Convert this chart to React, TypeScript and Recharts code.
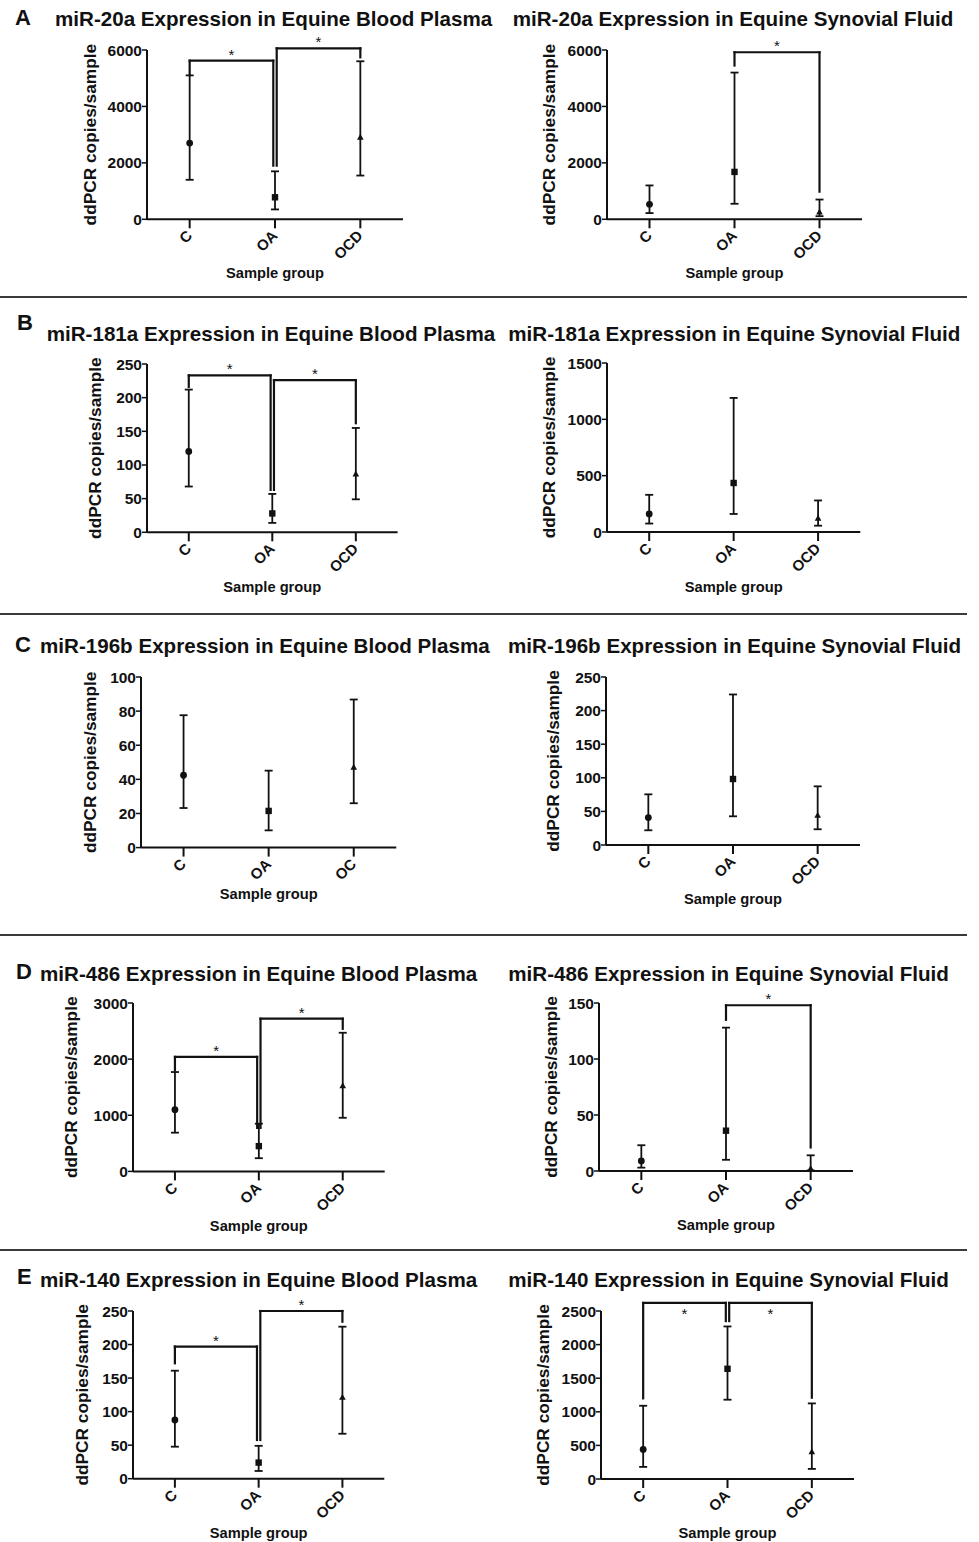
import React from "react";
import { ScatterChart, Scatter, XAxis, YAxis, ErrorBar, ReferenceLine, ReferenceDot } from "recharts";

const FONT = '"Liberation Sans", Arial, Helvetica, sans-serif';
const INK = "#111";

// groups on the x axis
const groups = ["C", "OA", "OCD"];
const groupsMiR196bPlasma = ["C", "OA", "OC"];

// A: miR-20a
const miR20aPlasmaMedian = [2700, 780, 2900];
const miR20aPlasmaLow = [1400, 350, 1550];
const miR20aPlasmaHigh = [5100, 1700, 5600];
const miR20aPlasmaTicks = [0, 2000, 4000, 6000];
const miR20aPlasmaSig = [
  { from: "C", to: "OA", top: 5620, fromEnd: 5150, toEnd: 1900 },
  { from: "OA", to: "OCD", top: 6060, fromEnd: 1900, toEnd: 5740 },
];
const miR20aSynovialMedian = [530, 1680, 250];
const miR20aSynovialLow = [220, 550, 110];
const miR20aSynovialHigh = [1200, 5200, 700];
const miR20aSynovialTicks = [0, 2000, 4000, 6000];
const miR20aSynovialSig = [{ from: "OA", to: "OCD", top: 5920, fromEnd: 5450, toEnd: 980 }];

// B: miR-181a
const miR181aPlasmaMedian = [120, 28, 86];
const miR181aPlasmaLow = [68, 14, 49];
const miR181aPlasmaHigh = [212, 57, 155];
const miR181aPlasmaTicks = [0, 50, 100, 150, 200, 250];
const miR181aPlasmaSig = [
  { from: "C", to: "OA", top: 233, fromEnd: 216, toEnd: 63 },
  { from: "OA", to: "OCD", top: 226, fromEnd: 63, toEnd: 162 },
];
const miR181aSynovialMedian = [160, 435, 120];
const miR181aSynovialLow = [75, 160, 56];
const miR181aSynovialHigh = [330, 1190, 280];
const miR181aSynovialTicks = [0, 500, 1000, 1500];

// C: miR-196b
const miR196bPlasmaMedian = [42.4, 21.5, 46.9];
const miR196bPlasmaLow = [23.2, 10.1, 26];
const miR196bPlasmaHigh = [77.6, 45.1, 86.8];
const miR196bPlasmaTicks = [0, 20, 40, 60, 80, 100];
const miR196bSynovialMedian = [40.8, 98.2, 43.7];
const miR196bSynovialLow = [21.9, 42.7, 23.4];
const miR196bSynovialHigh = [75.4, 224, 87.3];
const miR196bSynovialTicks = [0, 50, 100, 150, 200, 250];

// D: miR-486
const miR486PlasmaMedian = [1100, 450, 1520];
const miR486PlasmaLow = [690, 235, 955];
const miR486PlasmaHigh = [1770, 850, 2470];
const miR486PlasmaTicks = [0, 1000, 2000, 3000];
const miR486PlasmaSig = [
  { from: "C", to: "OA", top: 2040, fromEnd: 1800, toEnd: 775 },
  { from: "OA", to: "OCD", top: 2720, fromEnd: 775, toEnd: 2540 },
];
const miR486SynovialMedian = [9, 36, 2];
const miR486SynovialLow = [3, 10, 0.5];
const miR486SynovialHigh = [23, 128, 14];
const miR486SynovialTicks = [0, 50, 100, 150];
const miR486SynovialSig = [{ from: "OA", to: "OCD", top: 148, fromEnd: 135, toEnd: 21 }];

// E: miR-140
const miR140PlasmaMedian = [87.5, 24, 121];
const miR140PlasmaLow = [47.7, 11.5, 67];
const miR140PlasmaHigh = [161, 49, 226.6];
const miR140PlasmaTicks = [0, 50, 100, 150, 200, 250];
const miR140PlasmaSig = [
  { from: "C", to: "OA", top: 197, fromEnd: 172, toEnd: 57.7 },
  { from: "OA", to: "OCD", top: 250, fromEnd: 57.7, toEnd: 234 },
];
const miR140SynovialMedian = [440, 1640, 400];
const miR140SynovialLow = [180, 1180, 150];
const miR140SynovialHigh = [1090, 2270, 1125];
const miR140SynovialTicks = [0, 500, 1000, 1500, 2000, 2500];
const miR140SynovialSig = [
  { from: "C", to: "OA", top: 2620, fromEnd: 1200, toEnd: 2350, starBelow: true },
  { from: "OA", to: "OCD", top: 2620, fromEnd: 2350, toEnd: 1210, starBelow: true },
];

// where each plot sits on the page
const boxes = [
  { x0: 147, top: 50, bottom: 219.3, right: 403, yGap: 57, xGap: 54, titleX: 55, titleY: 18.8 },
  { x0: 606.7, top: 50, bottom: 219.3, right: 861.7, yGap: 58, xGap: 54, titleX: 512.7, titleY: 18.8 },
  { x0: 146.7, top: 364, bottom: 532.3, right: 397.3, yGap: 52, xGap: 54.3, titleX: 46.7, titleY: 333.3 },
  { x0: 606.7, top: 363.3, bottom: 532.3, right: 860, yGap: 58, xGap: 55, titleX: 508.3, titleY: 333.3 },
  { x0: 140.7, top: 676.7, bottom: 847.3, right: 396, yGap: 51.4, xGap: 46.7, titleX: 40, titleY: 645.5 },
  { x0: 606, top: 676.7, bottom: 844.7, right: 860, yGap: 52.7, xGap: 54.3, titleX: 508, titleY: 645.5 },
  { x0: 133.3, top: 1003.3, bottom: 1171.7, right: 385, yGap: 61.6, xGap: 54.3, titleX: 40, titleY: 973.3 },
  { x0: 599.3, top: 1002.7, bottom: 1170.7, right: 853.3, yGap: 47.6, xGap: 54.3, titleX: 508.3, titleY: 973.3 },
  { x0: 132.7, top: 1311, bottom: 1478.7, right: 384, yGap: 51, xGap: 54, titleX: 40, titleY: 1280 },
  { x0: 601, top: 1311, bottom: 1479, right: 854, yGap: 57.7, xGap: 54, titleX: 508.3, titleY: 1280 },
];

const letters = [
  { text: "A", x: 15, y: 18.8 },
  { text: "B", x: 17, y: 323.7 },
  { text: "C", x: 15, y: 645.8 },
  { text: "D", x: 16, y: 972 },
  { text: "E", x: 17, y: 1277.8 },
];
const separators = [296.7, 614, 935, 1250];

const panels = [
  { title: "miR-20a Expression in Equine Blood Plasma", groups, median: miR20aPlasmaMedian, low: miR20aPlasmaLow, high: miR20aPlasmaHigh, ticks: miR20aPlasmaTicks, sig: miR20aPlasmaSig },
  { title: "miR-20a Expression in Equine Synovial Fluid", groups, median: miR20aSynovialMedian, low: miR20aSynovialLow, high: miR20aSynovialHigh, ticks: miR20aSynovialTicks, sig: miR20aSynovialSig },
  { title: "miR-181a Expression in Equine Blood Plasma", groups, median: miR181aPlasmaMedian, low: miR181aPlasmaLow, high: miR181aPlasmaHigh, ticks: miR181aPlasmaTicks, sig: miR181aPlasmaSig },
  { title: "miR-181a Expression in Equine Synovial Fluid", groups, median: miR181aSynovialMedian, low: miR181aSynovialLow, high: miR181aSynovialHigh, ticks: miR181aSynovialTicks, sig: [] },
  { title: "miR-196b Expression in Equine Blood Plasma", groups: groupsMiR196bPlasma, median: miR196bPlasmaMedian, low: miR196bPlasmaLow, high: miR196bPlasmaHigh, ticks: miR196bPlasmaTicks, sig: [] },
  { title: "miR-196b Expression in Equine Synovial Fluid", groups, median: miR196bSynovialMedian, low: miR196bSynovialLow, high: miR196bSynovialHigh, ticks: miR196bSynovialTicks, sig: [] },
  { title: "miR-486 Expression in Equine Blood Plasma", groups, median: miR486PlasmaMedian, low: miR486PlasmaLow, high: miR486PlasmaHigh, ticks: miR486PlasmaTicks, sig: miR486PlasmaSig },
  { title: "miR-486 Expression in Equine Synovial Fluid", groups, median: miR486SynovialMedian, low: miR486SynovialLow, high: miR486SynovialHigh, ticks: miR486SynovialTicks, sig: miR486SynovialSig },
  { title: "miR-140 Expression in Equine Blood Plasma", groups, median: miR140PlasmaMedian, low: miR140PlasmaLow, high: miR140PlasmaHigh, ticks: miR140PlasmaTicks, sig: miR140PlasmaSig },
  { title: "miR-140 Expression in Equine Synovial Fluid", groups, median: miR140SynovialMedian, low: miR140SynovialLow, high: miR140SynovialHigh, ticks: miR140SynovialTicks, sig: miR140SynovialSig },
];

const YW = 90;
const MT = 24;
const MR = 10;
const XH = 72;
const GAP = 0.02;

function GroupTick(props: any) {
  const { x, y, payload, labels } = props;
  const ax = x - 0.5;
  const ay = y + 4.5;
  return (
    <text x={ax} y={ay} transform={`rotate(-45 ${ax} ${ay})`} textAnchor="end" dominantBaseline="central"
      fontSize={15} fontWeight={700} fill={INK} fontFamily={FONT}>
      {labels[payload.value]}
    </text>
  );
}

function YTitle(props: any) {
  const { viewBox, gap } = props;
  const cx = viewBox.x + viewBox.width - gap;
  const cy = viewBox.y + viewBox.height / 2;
  return (
    <text x={cx} y={cy} transform={`rotate(-90 ${cx} ${cy})`} textAnchor="middle" dominantBaseline="central"
      fontSize={17.3} fontWeight={700} fill={INK} fontFamily={FONT}>
      ddPCR copies/sample
    </text>
  );
}

function XTitle(props: any) {
  const { viewBox, gap } = props;
  const cx = viewBox.x + viewBox.width / 2;
  const cy = viewBox.y + gap;
  return (
    <text x={cx} y={cy} textAnchor="middle" dominantBaseline="central"
      fontSize={14.7} fontWeight={700} fill={INK} fontFamily={FONT}>
      Sample group
    </text>
  );
}

function marker(props: any) {
  const { cx, cy, payload } = props;
  if (payload.x === 0) return <circle cx={cx} cy={cy} r={3.4} fill={INK} />;
  if (payload.x === 1) return <rect x={cx - 3.2} y={cy - 3.2} width={6.4} height={6.4} fill={INK} />;
  return <path d={`M${cx},${cy - 3.8}L${cx + 3.3},${cy + 2.2}L${cx - 3.3},${cy + 2.2}Z`} fill={INK} />;
}

function Panel({ p, box }: any) {
  const width = box.right - box.x0 + YW + MR;
  const height = MT + (box.bottom - box.top) + XH;
  const data = p.median.map((m: number, i: number) => ({ x: i, y: m, err: [m - p.low[i], p.high[i] - m] }));
  const counts: Record<string, number> = {};
  p.sig.forEach((s: any) => {
    counts[s.from] = (counts[s.from] || 0) + 1;
    counts[s.to] = (counts[s.to] || 0) + 1;
  });

  return (
    <>
      <div style={{ position: "absolute", left: box.titleX, top: box.titleY - 11.7, lineHeight: "24px", fontSize: 20.6, fontWeight: 700, whiteSpace: "nowrap" }}>
        {p.title}
      </div>
      <div style={{ position: "absolute", left: box.x0 - YW, top: box.top - MT, width, height }}>
        <ScatterChart width={width} height={height} margin={{ top: MT, right: MR, bottom: 0, left: 0 }}>
          <XAxis type="number" dataKey="x" domain={[-0.5, 2.5]} ticks={[0, 1, 2]} interval={0} height={XH}
            axisLine={{ stroke: INK, strokeWidth: 2 }} tickLine={{ stroke: INK, strokeWidth: 2 }}
            tickSize={9} tickMargin={0} tick={<GroupTick labels={p.groups} />} label={<XTitle gap={box.xGap} />} />
          <YAxis type="number" dataKey="y" domain={[0, p.ticks[p.ticks.length - 1]]} ticks={p.ticks} interval={0} width={YW}
            axisLine={{ stroke: INK, strokeWidth: 2 }} tickLine={{ stroke: INK, strokeWidth: 1.5 }}
            tickSize={5} tickMargin={0} tick={{ fontSize: 15.5, fontWeight: 700, fill: INK, fontFamily: FONT }}
            label={<YTitle gap={box.yGap} />} />
          {p.sig.flatMap((s: any, k: number) => {
            const a = p.groups.indexOf(s.from) + (counts[s.from] > 1 ? GAP : 0);
            const b = p.groups.indexOf(s.to) - (counts[s.to] > 1 ? GAP : 0);
            const segs = [
              [{ x: a, y: s.fromEnd }, { x: a, y: s.top }],
              [{ x: a, y: s.top }, { x: b, y: s.top }],
              [{ x: b, y: s.top }, { x: b, y: s.toEnd }],
            ];
            return [
              ...segs.map((seg, j) => (
                <ReferenceLine key={`b${k}-${j}`} segment={seg} ifOverflow="visible" stroke={INK} strokeWidth={2.2} strokeLinecap="square" />
              )),
              <ReferenceDot key={`s${k}`} x={(a + b) / 2} y={s.top} r={0} ifOverflow="visible"
                shape={(d: any) => (
                  <text x={d.cx} y={s.starBelow ? d.cy + 16 : d.cy - 1} textAnchor="middle" fontSize={15} fill={INK} fontFamily={FONT}>*</text>
                )} />,
            ];
          })}
          <Scatter data={data} shape={marker} isAnimationActive={false}>
            <ErrorBar dataKey="err" direction="y" width={4} stroke={INK} strokeWidth={1.8} isAnimationActive={false} />
          </Scatter>
        </ScatterChart>
      </div>
    </>
  );
}

export default function App() {
  return (
    <div style={{ position: "absolute", left: 0, top: 0, width: 979, height: 1542, background: "#fff", fontFamily: FONT, color: INK, overflow: "hidden" }}>
      {separators.map((y) => (
        <div key={y} style={{ position: "absolute", left: 0, top: y - 1, width: 967, height: 2, background: "#3a3a3a" }} />
      ))}
      {letters.map((l) => (
        <div key={l.text} style={{ position: "absolute", left: l.x, top: l.y - 12.5, lineHeight: "24px", fontSize: 22, fontWeight: 700 }}>
          {l.text}
        </div>
      ))}
      {panels.map((p, i) => (
        <Panel key={i} p={p} box={boxes[i]} />
      ))}
    </div>
  );
}
